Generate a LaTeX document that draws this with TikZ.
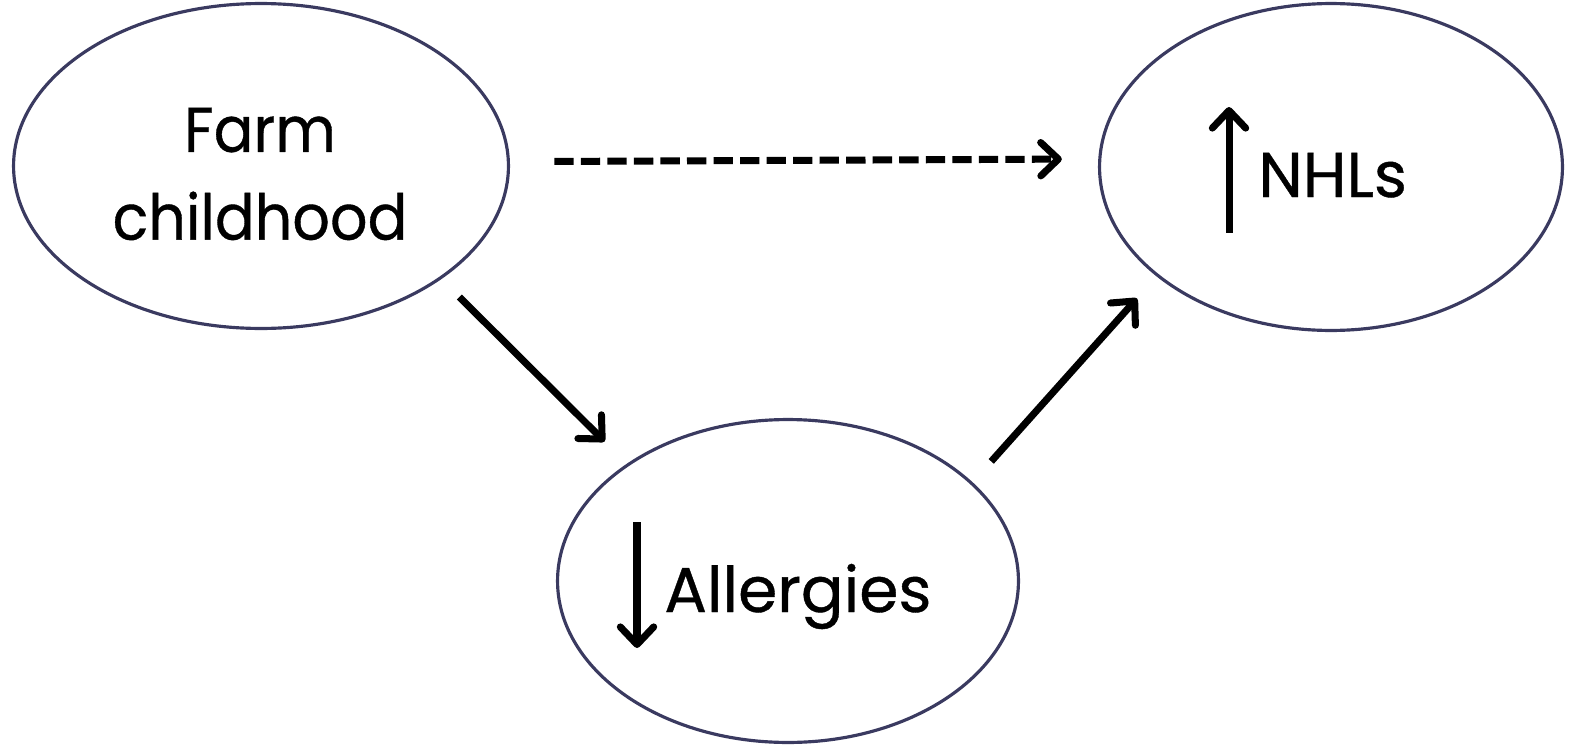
\documentclass[tikz,border=0pt]{standalone}
\usepackage{fontspec}
\setmainfont{Poppins}[FakeBold=0.6]
\usepackage{tikz}
\usetikzlibrary{shapes.geometric, arrows.meta, positioning}
\definecolor{ovalline}{RGB}{58,58,96}
\tikzset{
		oval/.style={
			ellipse,
			draw=ovalline,
			line width=1.8pt,
			inner sep=0pt,
			outer sep=0pt
		},
		label text/.style={
			font=\fontsize{36}{50}\selectfont,
			align=center,
			inner sep=0pt
		},
		link/.style={
			line width=4pt,
			-{Straight Barb[length=10pt,width=19pt,round]}
		},
		dashlink/.style={
			link,
			dash pattern=on 11pt off 4.1pt
		}
	}
\begin{document}
\begin{tikzpicture}[x=0.02cm, y=-0.02cm]
			\useasboundingbox (0,0) rectangle (1569,747);
			\node (farm) [oval, minimum width=9.9cm, minimum height=6.5cm] at (261,166) {};
			\node (nhl) [oval, minimum width=9.26cm, minimum height=6.54cm] at (1331,167) {};
			\node (allergy) [oval, minimum width=9.22cm, minimum height=6.46cm] at (788,581) {};
			\node (farmtext) [label text, xscale=0.93] at (260,174) {Farm\\childhood};
			\node (nhltext) [label text, anchor=base west] at (1258,197) {NHLs};
			\node (allergytext) [label text, anchor=base west] at (664,612) {Allergies};
			\draw [link] ([xshift=-0.58cm, yshift=-0.72cm]nhltext.base west) -- ([xshift=-0.58cm, yshift=1.8cm]nhltext.base west);
			\draw [link] ([xshift=-0.54cm, yshift=1.8cm]allergytext.base west) -- ([xshift=-0.54cm, yshift=-0.72cm]allergytext.base west);
			\draw [dashlink, shorten <=0.92cm, shorten >=0.76cm] (farm.1.4) -- (nhl.178.3);
			\draw [link, shorten <=0.54cm, shorten >=0.66cm] (farm.-32) -- (allergy.144.4);
			\draw [link, shorten <=0.59cm, shorten >=0.62cm] (allergy.28.9) -- (nhl.-148.9);
\end{tikzpicture}
\end{document}
